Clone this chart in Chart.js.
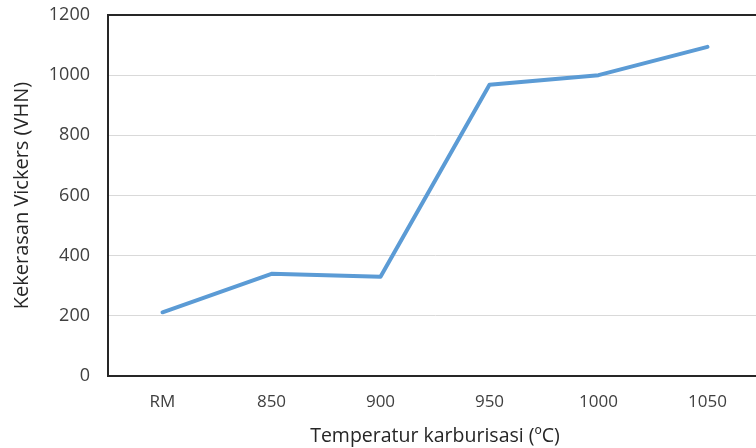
<!DOCTYPE html>
<html>
<head>
<meta charset="utf-8">
<script src="https://cdn.jsdelivr.net/npm/chart.js@4"></script>
<style>
html,body{margin:0;padding:0;background:#fff;overflow:hidden;}
#wrap{width:764px;height:448px;}
</style>
</head>
<body>
<div id="wrap"><canvas id="c"></canvas></div>
<script>
const categories = ["RM", "850", "900", "950", "1000", "1050"];
const hardness = [212, 340, 330, 968, 1000, 1094];
const yTitle = "Kekerasan Vickers (VHN)";
const xTitle = "Temperatur karburisasi (\u00BAC)";

const fontFam = "'Open Sans', 'Noto Sans', sans-serif";

const topBorder = {
  id: 'topBorder',
  afterDraw(chart) {
    const a = chart.chartArea, ctx = chart.ctx;
    ctx.save();
    ctx.strokeStyle = '#262626';
    ctx.lineWidth = 2;
    ctx.beginPath();
    ctx.moveTo(a.left - 1, a.top);
    ctx.lineTo(a.right + 1, a.top);
    ctx.stroke();
    ctx.restore();
  }
};

new Chart(document.getElementById('c'), {
  type: 'line',
  data: {
    labels: categories,
    datasets: [{
      data: hardness,
      borderColor: '#5B9BD5',
      borderWidth: 4,
      pointRadius: 0,
      tension: 0,
      borderCapStyle: 'round',
      borderJoinStyle: 'round',
      fill: false
    }]
  },
  plugins: [topBorder],
  options: {
    responsive: true,
    maintainAspectRatio: false,
    animation: false,
    layout: { padding: { top: 4, right: 2, left: 10, bottom: 2 } },
    plugins: { legend: { display: false }, tooltip: { enabled: false } },
    scales: {
      x: {
        offset: true,
        grid: { display: false, drawTicks: false },
        border: { display: true, color: '#262626', width: 2 },
        ticks: { padding: 16, color: '#404040', font: { family: fontFam, size: 17 } },
        title: { display: true, text: xTitle, color: '#262626', padding: { top: -2, bottom: 0 }, font: { family: fontFam, size: 19.5, lineHeight: 1.0 } }
      },
      y: {
        min: 0, max: 1200,
        afterFit(scale) { scale.width = 98; scale.paddingTop = 15; scale.paddingBottom = 11; },
        ticks: { stepSize: 200, padding: 18, color: '#404040', font: { family: fontFam, size: 18 },
                 callback: (v) => String(v) },
        grid: { color: '#d9d9d9', lineWidth: 1, drawTicks: false },
        border: { display: true, color: '#262626', width: 2 },
        title: { display: true, text: yTitle, color: '#262626', padding: { top: 0, bottom: 0 }, font: { family: fontFam, size: 20 } }
      }
    }
  }
});
</script>
</body>
</html>
